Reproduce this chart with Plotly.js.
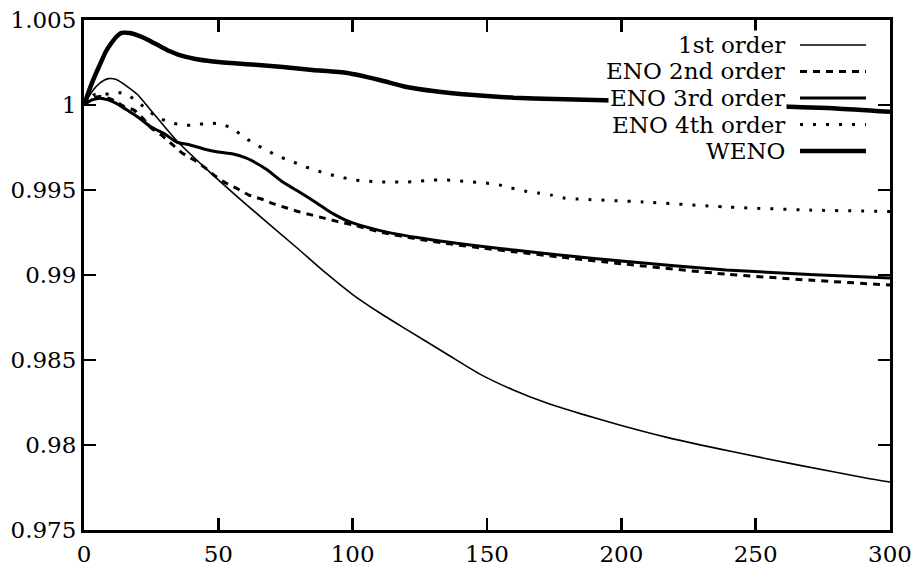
<!DOCTYPE html>
<html>
<head>
<meta charset="utf-8">
<script src="https://cdn.plot.ly/plotly-3.0.1.min.js"></script>
<style>html,body{margin:0;padding:0;background:#fff;}#chart{width:912px;height:570px;}</style>
</head>
<body>
<div id="chart"></div>
<script>
// ---- data ----
const seriesNames = ["1st order", "ENO 2nd order", "ENO 3rd order", "ENO 4th order", "WENO"];

const tFirst = [0,3,6,9,12,16,20,24,28,34.5,45,60,80,90,100,110,120,135,147,160,172,185,200,217,241.6,266.5,291,300];
const vFirst = [1.0000,1.0008,1.0013,1.00155,1.0015,1.0011,1.0006,0.99985,0.9991,0.9979,0.99632,0.9942,0.9915,0.99012,0.98885,0.98778,0.9868,0.98535,0.9842,0.98322,0.98248,0.98183,0.98115,0.98045,0.9796,0.9788,0.97806,0.97782];

const tEno2 = [0,3,6,9,12,15,18.6,22,25,28.7,32.7,36.5,41,44.7,48.8,52.8,57.3,61.4,66,70.7,75.5,80,85,89.7,94.5,100,111,124,136,148.5,161,177,200,239,270,300];
const vEno2 = [1.0000,1.0004,1.0005,1.0004,1.0002,0.9999,0.9997,0.9992,0.99865,0.99824,0.9977,0.99718,0.99676,0.99635,0.99582,0.99541,0.99506,0.9947,0.99447,0.99418,0.99394,0.99372,0.99352,0.99333,0.99314,0.99295,0.9925,0.99212,0.99183,0.99158,0.99135,0.99106,0.99066,0.99005,0.9897,0.98941];

const tEno3 = [0,3,6,9,12,16,20,25,30,34.5,39.5,45,50,55.5,60,63,68,74,80,86.6,92,99,111,124,136,148.5,161,177,200,239,270,300];
const vEno3 = [1.0000,1.0003,1.0004,1.0003,1.0001,0.9997,0.9993,0.9987,0.9983,0.99782,0.99765,0.9974,0.99724,0.99712,0.9969,0.99668,0.9962,0.99547,0.9949,0.99424,0.99367,0.99312,0.99258,0.9922,0.99192,0.99167,0.99145,0.99118,0.99082,0.9903,0.99003,0.98982];

const tEno4 = [0,3.7,7,10.5,15,19,23,27,31.6,36.5,41.6,46,51,55.5,59.5,63.6,68,72,77,81.5,86,90.7,95.6,100.5,105,110,115,120,125,130,135,140,144.7,149.6,154.5,159,164,169,174,178.6,183.5,208,239,270,300];
const vEno4 = [1.0000,1.0006,1.0006,1.0007,1.0007,1.0003,0.9998,0.9993,0.9990,0.99882,0.99882,0.99894,0.99888,0.99859,0.99812,0.9977,0.99735,0.9970,0.99671,0.99641,0.99618,0.99594,0.99576,0.99559,0.99553,0.99547,0.99547,0.99547,0.99553,0.99559,0.99559,0.99553,0.99547,0.99541,0.9953,0.99512,0.99494,0.99482,0.9947,0.99453,0.99447,0.9943,0.9940,0.99382,0.99374];

const tWeno = [0,2,4,6,8,10,12,14,17,20,23,26,29,32,35,38,41,48,56,65,74,85,98,110,120,130,140,150,160,175,190,210,230,250,265,280,300];
const vWeno = [1.0000,1.0009,1.0017,1.0024,1.0031,1.0036,1.0040,1.00424,1.00423,1.0041,1.0039,1.00365,1.0034,1.00316,1.00297,1.00283,1.00272,1.00256,1.00245,1.00235,1.00224,1.00206,1.00188,1.00147,1.00106,1.00082,1.00065,1.00053,1.00043,1.00035,1.0003,1.0002,1.0001,0.99998,0.99988,0.9998,0.9996];

const xTickVals = [0,50,100,150,200,250,300];
const xTickText = ["0","50","100","150","200","250","300"];
const yTickVals = [0.975,0.98,0.985,0.99,0.995,1,1.005];
const yTickText = ["0.975","0.98","0.985","0.99","0.995","1","1.005"];

// ---- styles ----
const FONT = "DejaVu Serif, Liberation Serif, serif";
const styles = [
  {width: 1.6, dash: "solid"},
  {width: 3, dash: "7px,6px"},
  {width: 3, dash: "solid"},
  {width: 3, dash: "3px,10px"},
  {width: 4.5, dash: "solid"}
];
const xs = [tFirst, tEno2, tEno3, tEno4, tWeno];
const ys = [vFirst, vEno2, vEno3, vEno4, vWeno];

const traces = seriesNames.map((n, i) => ({
  type: "scatter", mode: "lines", name: n,
  x: xs[i], y: ys[i],
  line: {color: "#000", width: styles[i].width, dash: styles[i].dash, shape: "spline", smoothing: 0.6},
  showlegend: false, hoverinfo: "skip"
}));

// plot area in pixels
const L = 84, R = 890, T = 20, B = 530;
const px = x => (x - L) / (R - L);
const py = y => (B - y) / (B - T);

const rowY = [45, 71.5, 98, 124.5, 151];
const annotations = seriesNames.map((n, i) => ({
  xref: "paper", yref: "paper", x: px(787), y: py(rowY[i]),
  xanchor: "right", yanchor: "middle", showarrow: false,
  text: n, bgcolor: "#fff", borderpad: 1,
  font: {family: FONT, size: 23, color: "#000"}
}));
const shapes = seriesNames.map((n, i) => ({
  type: "line", xref: "paper", yref: "paper",
  x0: px(800), x1: px(866), y0: py(rowY[i]), y1: py(rowY[i]),
  line: {color: "#000", width: styles[i].width, dash: styles[i].dash}
}));

const axisCommon = {
  showgrid: false, zeroline: false, showline: true, linecolor: "#000", linewidth: 3,
  mirror: "ticks", ticks: "inside", ticklen: 12, tickwidth: 2.5, tickcolor: "#000",
  tickfont: {family: FONT, size: 23, color: "#000"}
};

const layout = {
  width: 912, height: 570,
  margin: {l: L, r: 912 - R, t: T, b: 570 - B, pad: 0},
  paper_bgcolor: "#fff", plot_bgcolor: "#fff",
  showlegend: false,
  xaxis: Object.assign({}, axisCommon, {range: [0, 300], tickmode: "array", tickvals: xTickVals, ticktext: xTickText, ticklabelstandoff: 1}),
  yaxis: Object.assign({}, axisCommon, {range: [0.975, 1.005], tickmode: "array", tickvals: yTickVals, ticktext: yTickText, ticklabelstandoff: 0}),
  annotations: annotations,
  shapes: shapes
};

Plotly.newPlot("chart", traces, layout, {staticPlot: true, displayModeBar: false});
</script>
</body>
</html>
